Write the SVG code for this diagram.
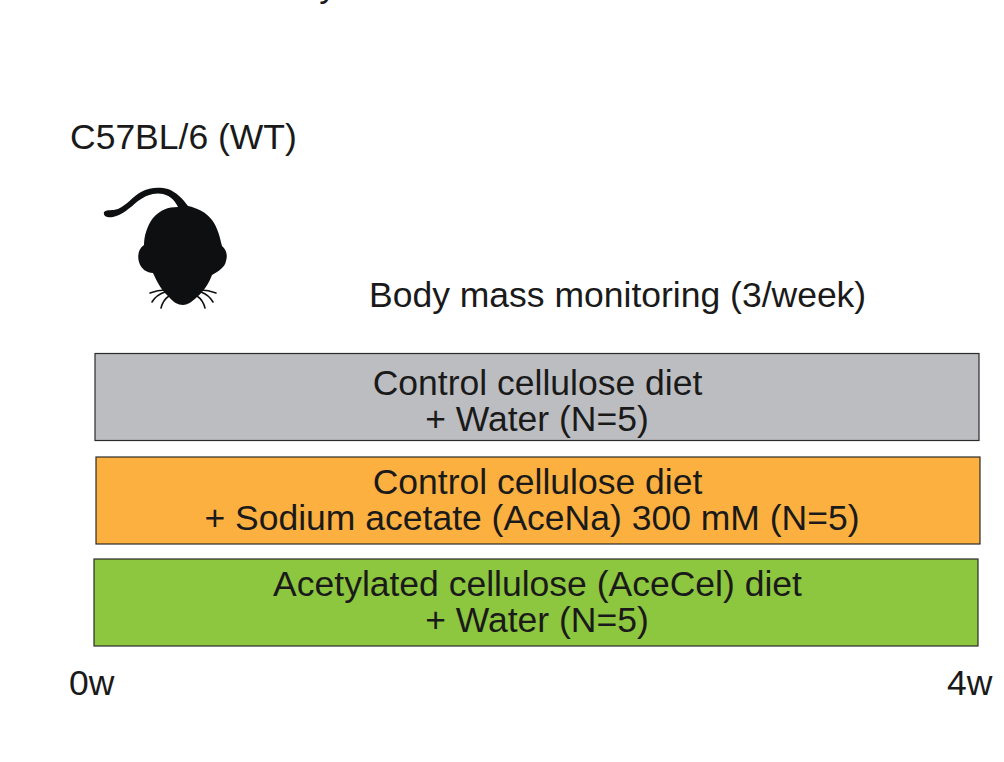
<svg xmlns="http://www.w3.org/2000/svg" width="1004" height="762" viewBox="0 0 1004 762">
<style>
text{font-family:"Liberation Sans",Arial,sans-serif;font-size:35.500px;fill:#1a1a1a;text-anchor:middle}
.s{text-anchor:start}
.b{stroke:#2b2b2b;stroke-width:1.2}
.w{fill:none;stroke:#111;stroke-width:1.6;stroke-linecap:round}
</style>
<rect width="1004" height="762" fill="#fff"/>
<text x="328" y="-3.500">y</text>
<g id="strain"><text class="s" x="70" y="149">C57BL/6 (WT)</text></g>
<g id="mouse">
<path fill="#0d0f10" d="M104 212C108 209 112 211 118 209C127 205 132 197 141 192C150 187 160 187 168 189C176 192 183 199 188 206C197 208 206 212 212 220C218 228 220 238 222 246C226 249 228 255 226 261C225 267 219 271 212 275C209 283 204 291 197 297C192 302 187 305 183 305C178 305 173 302 169 297C162 291 157 282 153 273C147 273 141 269 139 262C137 255 139 248 144 245C144 236 147 226 153 218C160 210 168 207 178 207C175 201 171 196 163 194C155 192 146 195 138 201C130 208 122 215 113 217C107 218 103 216 104 212Z"/>
<path class="w" d="M150 293Q158 290 165 290M152 302Q156 295 165 292M161 308Q163 300 169 296M216 293Q208 290 201 290M213 302Q209 295 201 292M205 308Q203 300 197 296"/>
</g>
<g id="monitoring"><text class="s" x="369" y="307">Body mass monitoring (3/week)</text></g>
<g id="group-control">
<rect class="b" x="95" y="353.500" width="884" height="87" fill="#bcbdc0"/>
<text x="537.500" y="395">Control cellulose diet</text>
<text x="537" y="431">+ Water (N=5)</text>
</g>
<g id="group-acena">
<rect class="b" x="96" y="457" width="884" height="87" fill="#fbb040"/>
<text x="537.500" y="494">Control cellulose diet</text>
<text x="532" y="530">+ Sodium acetate (AceNa) 300 mM (N=5)</text>
</g>
<g id="group-acecel">
<rect class="b" x="94" y="559" width="884" height="87" fill="#8dc63f"/>
<text x="537.500" y="596">Acetylated cellulose (AceCel) diet</text>
<text x="537" y="632">+ Water (N=5)</text>
</g>
<g id="start"><text class="s" x="69" y="695">0w</text></g>
<g id="end"><text class="s" x="947" y="695">4w</text></g>
</svg>
